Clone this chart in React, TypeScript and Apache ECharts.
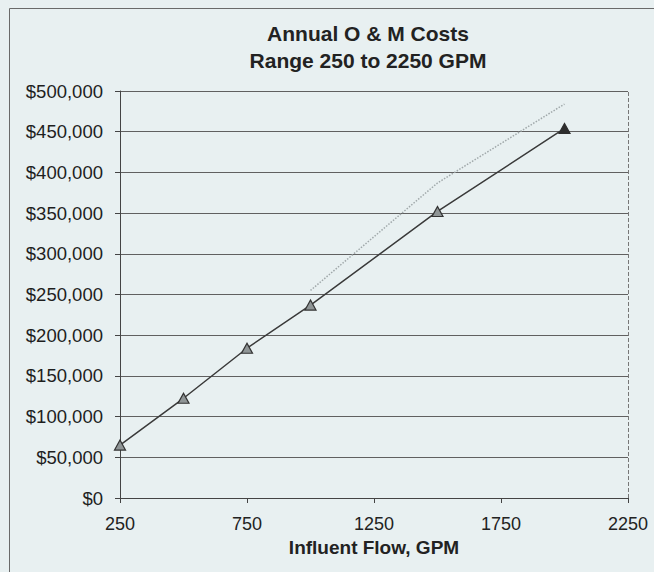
import React, { useEffect, useRef } from "react";
import * as echarts from "echarts";

// Influent flow (GPM) and annual O & M cost ($)
const flowGpm = [250, 500, 750, 1000, 1500, 2000];
const annualCost = [65000, 122500, 184000, 237000, 352000, 454000];

// Upper estimate, drawn as a dotted line
const upperFlowGpm = [1000, 1500, 2000];
const upperCost = [255000, 387000, 484000];

const xTicks = [250, 750, 1250, 1750, 2250];
const titleLines = ["Annual O & M Costs", "Range 250 to 2250 GPM"];
const xAxisTitle = "Influent Flow, GPM";

const FONT = "'Liberation Sans', Arial, sans-serif";

export default function App() {
  const ref = useRef<HTMLDivElement>(null);

  useEffect(() => {
    if (!ref.current) return;
    const chart = echarts.init(ref.current, undefined, { renderer: "svg" });
    const last = flowGpm.length - 1;

    chart.setOption({
      animation: false,
      backgroundColor: "#e8f0f1",
      textStyle: { fontFamily: FONT },
      title: {
        text: titleLines.join("\n"),
        left: 363,
        top: 15,
        textAlign: "center",
        textStyle: {
          fontFamily: FONT,
          fontSize: 21,
          fontWeight: "bold",
          color: "#222",
          lineHeight: 27,
        },
      },
      graphic: [
        {
          type: "polyline",
          silent: true,
          shape: { points: [[9.5, 600], [9.5, 8.5], [680, 8.5]] },
          style: { stroke: "#6a6a6a", lineWidth: 1, fill: "none" },
        },
      ],
      grid: { left: 120, right: 26, top: 91, bottom: 74 },
      xAxis: {
        type: "value",
        min: xTicks[0],
        max: xTicks[xTicks.length - 1],
        interval: 500,
        name: xAxisTitle,
        nameLocation: "middle",
        nameGap: 40,
        nameTextStyle: { fontFamily: FONT, fontSize: 19, fontWeight: "bold", color: "#222" },
        axisLine: { show: true, lineStyle: { color: "#444", width: 1 } },
        axisTick: { show: true, length: 5, lineStyle: { color: "#444" } },
        axisLabel: {
          fontFamily: FONT,
          fontSize: 18,
          color: "#222",
          margin: 17,
          formatter: (v: number) => String(v),
        },
        splitLine: { show: false },
      },
      yAxis: {
        type: "value",
        min: 0,
        max: 500000,
        interval: 50000,
        axisLine: { show: true, lineStyle: { color: "#444", width: 1 } },
        axisTick: { show: true, length: 5, lineStyle: { color: "#444" } },
        axisLabel: {
          fontFamily: FONT,
          fontSize: 18.5,
          color: "#1e1e1e",
          margin: 17,
          formatter: (v: number) => "$" + v.toLocaleString("en-US"),
        },
        splitLine: { show: true, lineStyle: { color: "#606060", width: 1 } },
      },
      series: [
        {
          type: "line",
          data: upperFlowGpm.map((x, i) => [x, upperCost[i]]),
          showSymbol: false,
          symbol: "none",
          lineStyle: { color: "#a0a8aa", width: 1.5, type: "dotted" },
          z: 2,
        },
        {
          type: "line",
          data: flowGpm.map((x, i) => ({
            value: [x, annualCost[i]],
            itemStyle:
              i === last ? { color: "#2e2e2e", borderColor: "#2e2e2e" } : undefined,
          })),
          symbol: "triangle",
          symbolSize: [11, 10],
          lineStyle: { color: "#3a3a3a", width: 1.5 },
          itemStyle: { color: "#8f9596", borderColor: "#333", borderWidth: 1.2 },
          markLine: {
            silent: true,
            symbol: "none",
            label: { show: false },
            lineStyle: { color: "#777", width: 1, type: "dashed" },
            data: [{ xAxis: xTicks[xTicks.length - 1] }],
          },
          z: 3,
        },
      ],
    });

    return () => chart.dispose();
  }, []);

  return (
    <div
      ref={ref}
      style={{ position: "absolute", left: 0, top: 0, width: 654, height: 572 }}
    />
  );
}
